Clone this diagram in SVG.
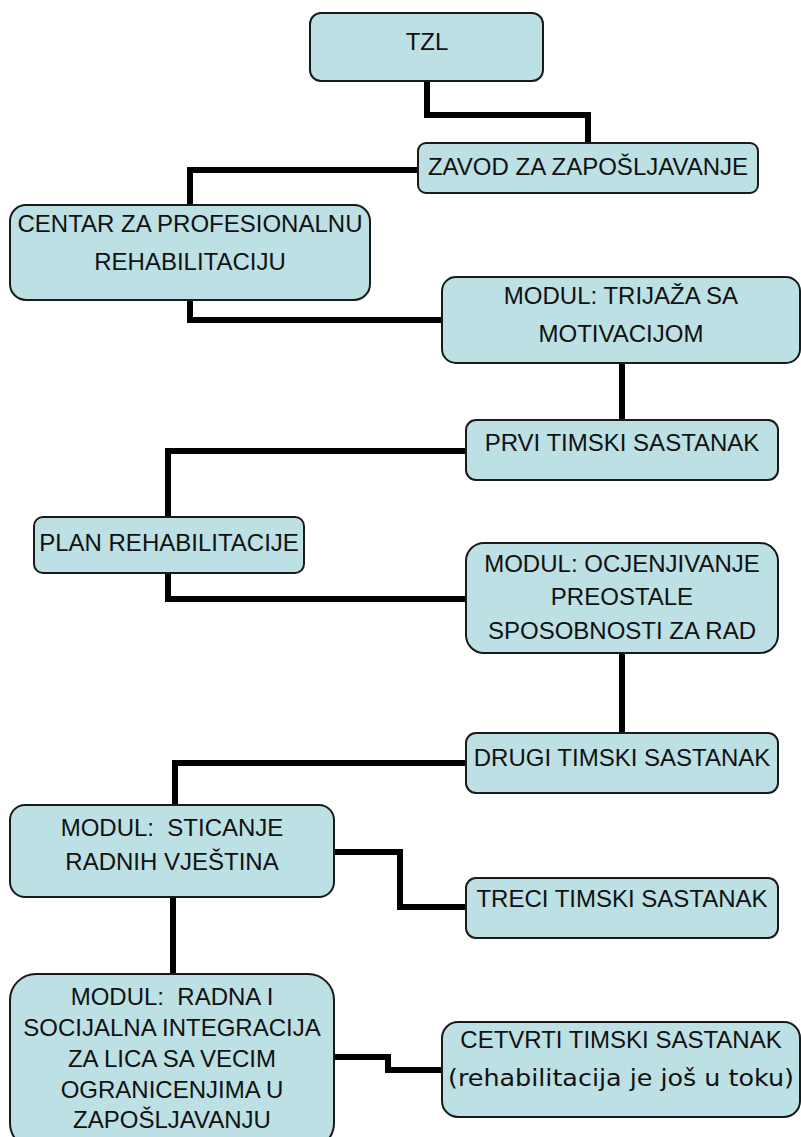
<svg xmlns="http://www.w3.org/2000/svg" width="801" height="1137" viewBox="0 0 801 1137">
  <style>
    .box { fill: #bce0e3; stroke: #1a1a1a; stroke-width: 2; }
    .lbl { font-family: "Liberation Sans", Arial, sans-serif; font-size: 24px; fill: #111; text-anchor: middle; }
    .note { font-family: "DejaVu Sans", Verdana, sans-serif; font-size: 23px; }
    .wire { fill: none; stroke: #000; stroke-width: 6; stroke-linejoin: miter; stroke-linecap: butt; }
  </style>

  <!-- connectors between the steps of the process -->
  <g id="connectors">
    <path class="wire" d="M427,81 V115 H588 V143"/>
    <path class="wire" d="M418,170 H190 V205"/>
    <path class="wire" d="M190,300 V320 H442"/>
    <path class="wire" d="M622,363 V420"/>
    <path class="wire" d="M466,451 H168 V517"/>
    <path class="wire" d="M168,573 V599 H466"/>
    <path class="wire" d="M622,653 V733"/>
    <path class="wire" d="M466,763 H175 V805"/>
    <path class="wire" d="M334,852 H400 V907 H466"/>
    <path class="wire" d="M173,897 V974"/>
    <path class="wire" d="M334,1057 H388 V1070 H442"/>
  </g>

  <g id="tzl">
    <rect class="box" x="310" y="13" width="233" height="68" rx="11"/>
    <text class="lbl" x="427" y="50">TZL</text>
  </g>

  <g id="zavod">
    <rect class="box" x="418" y="143" width="340" height="50" rx="8"/>
    <text class="lbl" x="588" y="175">ZAVOD ZA ZAPOŠLJAVANJE</text>
  </g>

  <g id="centar">
    <rect class="box" x="10" y="205" width="360" height="95" rx="16"/>
    <text class="lbl" x="190" y="232">CENTAR ZA PROFESIONALNU</text>
    <text class="lbl" x="190" y="270">REHABILITACIJU</text>
  </g>

  <g id="trijaza">
    <rect class="box" x="442" y="277" width="358" height="86" rx="14"/>
    <text class="lbl" x="621" y="304">MODUL: TRIJAŽA SA</text>
    <text class="lbl" x="621" y="342">MOTIVACIJOM</text>
  </g>

  <g id="prvi">
    <rect class="box" x="466" y="420" width="312" height="60" rx="10"/>
    <text class="lbl" x="622" y="451">PRVI TIMSKI SASTANAK</text>
  </g>

  <g id="plan">
    <rect class="box" x="34" y="517" width="270" height="56" rx="9"/>
    <text class="lbl" x="169" y="551">PLAN REHABILITACIJE</text>
  </g>

  <g id="ocjenjivanje">
    <rect class="box" x="466" y="543" width="312" height="110" rx="18"/>
    <text class="lbl" x="622" y="572">MODUL: OCJENJIVANJE</text>
    <text class="lbl" x="622" y="605">PREOSTALE</text>
    <text class="lbl" x="622" y="639">SPOSOBNOSTI ZA RAD</text>
  </g>

  <g id="drugi">
    <rect class="box" x="466" y="733" width="312" height="60" rx="10"/>
    <text class="lbl" x="622" y="766">DRUGI TIMSKI SASTANAK</text>
  </g>

  <g id="sticanje">
    <rect class="box" x="10" y="805" width="324" height="92" rx="15"/>
    <text class="lbl" x="172" y="836" xml:space="preserve">MODUL:  STICANJE</text>
    <text class="lbl" x="172" y="870">RADNIH VJEŠTINA</text>
  </g>

  <g id="treci">
    <rect class="box" x="466" y="878" width="312" height="60" rx="10"/>
    <text class="lbl" x="622" y="907">TRECI TIMSKI SASTANAK</text>
  </g>

  <g id="radna">
    <rect class="box" x="10" y="974" width="324" height="175" rx="26"/>
    <text class="lbl" x="172" y="1005" xml:space="preserve">MODUL:  RADNA I</text>
    <text class="lbl" x="172" y="1036">SOCIJALNA INTEGRACIJA</text>
    <text class="lbl" x="172" y="1067">ZA LICA SA VECIM</text>
    <text class="lbl" x="172" y="1098">OGRANICENJIMA U</text>
    <text class="lbl" x="172" y="1128">ZAPOŠLJAVANJU</text>
  </g>

  <g id="cetvrti">
    <rect class="box" x="442" y="1022" width="358" height="95" rx="16"/>
    <text class="lbl" x="621" y="1048">CETVRTI TIMSKI SASTANAK</text>
    <text class="lbl note" x="621" y="1086" textLength="346" lengthAdjust="spacingAndGlyphs">(rehabilitacija je još u toku)</text>
  </g>
</svg>
